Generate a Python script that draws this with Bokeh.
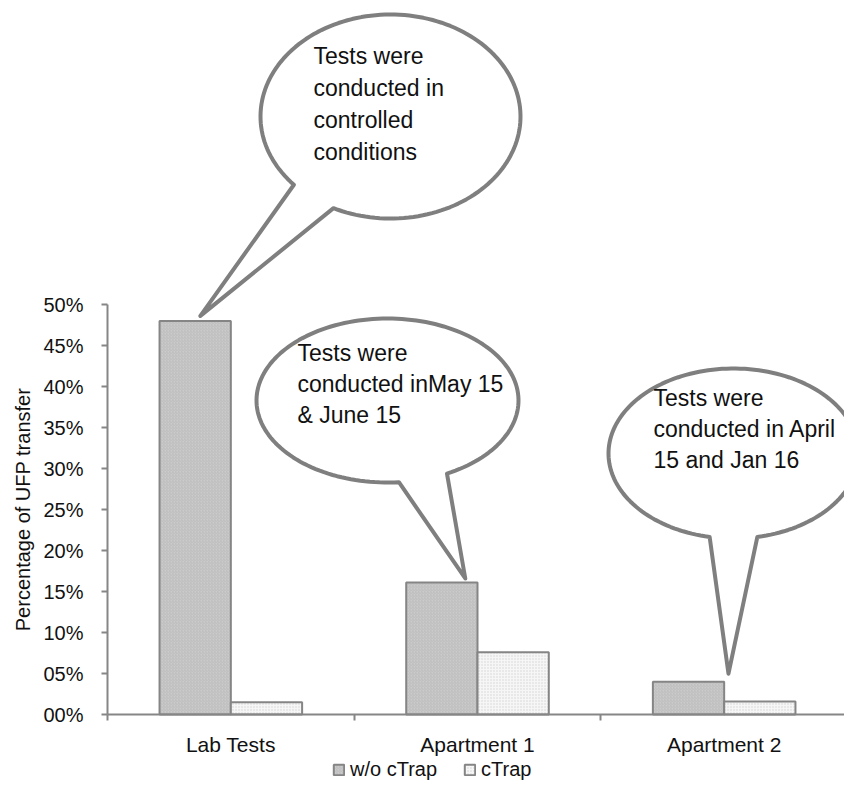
import numpy as np
from bokeh.plotting import figure
from bokeh.models import Range1d, FixedTicker, Legend, LegendItem, ColumnDataSource
from bokeh.core.properties import value
from bokeh.embed import file_html
from bokeh.resources import INLINE

# ---------------- data ----------------
categories = ["Lab Tests", "Apartment 1", "Apartment 2"]
wo_ctrap = [0.480, 0.161, 0.040]
ctrap = [0.015, 0.076, 0.016]
series_names = ["w/o cTrap", "cTrap"]
y_ticks = [0.00, 0.05, 0.10, 0.15, 0.20, 0.25, 0.30, 0.35, 0.40, 0.45, 0.50]
y_tick_labels = ["00%", "05%", "10%", "15%", "20%", "25%", "30%", "35%", "40%", "45%", "50%"]
y_title = "Percentage of UFP transfer"
callout_texts = [
    "Tests were\nconducted in\ncontrolled\nconditions",
    "Tests were\nconducted inMay 15\n& June 15",
    "Tests were\nconducted in  April\n15 and Jan 16",
]

# ---------------- layout (whole canvas is the frame) ----------------
FONT = "Liberation Sans"
W, H = 844, 781
AXIS_X_PX, AXIS_Y_PX = 107, 714        # where the axes cross (px from top-left)
n = len(categories)
px_per_cat = 740.0 / n                  # category width in px
px_per_unit = 820.0                     # pixels for 100 %
bar_w = 0.289

x_range = Range1d(-AXIS_X_PX / px_per_cat, (W - AXIS_X_PX) / px_per_cat)
y_range = Range1d(-(H - AXIS_Y_PX) / px_per_unit, AXIS_Y_PX / px_per_unit)

p = figure(width=W, height=H, output_backend="svg", toolbar_location=None,
           x_range=x_range, y_range=y_range, min_border=0,
           outline_line_color=None, background_fill_color="white",
           border_fill_color="white")
p.xgrid.visible = False
p.ygrid.visible = False


def to_dx(X):
    return (X - AXIS_X_PX) / px_per_cat


def to_dy(Y):
    return (AXIS_Y_PX - Y) / px_per_unit


idx = np.arange(n) + 0.5
src = ColumnDataSource(dict(x_wo=idx - bar_w / 2, x_c=idx + bar_w / 2,
                            wo=wo_ctrap, c=ctrap, cat=categories))

r1 = p.vbar(x="x_wo", top="wo", width=bar_w, source=src,
            fill_color="#cbcbcb", line_color="#858585", line_width=2,
            hatch_pattern="right_diagonal_line", hatch_color="#b4b4b4",
            hatch_scale=3, hatch_weight=0.6)
r2 = p.vbar(x="x_c", top="c", width=bar_w, source=src,
            fill_color="#f6f6f6", line_color="#858585", line_width=2,
            hatch_pattern="dot", hatch_color="#d2d2d2",
            hatch_scale=3, hatch_weight=0.6)

# ---------------- axes (fixed inside the frame) ----------------
AX = "#868686"
ya = p.yaxis[0]
ya.fixed_location = 0
ya.ticker = FixedTicker(ticks=y_ticks, minor_ticks=[])
ya.major_label_overrides = {t: l for t, l in zip(y_ticks, y_tick_labels)}
ya.bounds = (0, 0.5)
ya.axis_line_color = AX
ya.axis_line_width = 2
ya.major_tick_line_color = AX
ya.major_tick_line_width = 2
ya.major_tick_out = 6
ya.major_tick_in = 0
ya.minor_tick_line_color = None
ya.major_label_standoff = 18
ya.major_label_text_font = FONT
ya.major_label_text_font_size = "20px"
ya.major_label_text_color = "#111111"

xa = p.xaxis[0]
xa.fixed_location = 0
xa.ticker = FixedTicker(ticks=list(idx), minor_ticks=list(range(n + 1)))
xa.major_label_overrides = {float(t): c for t, c in zip(idx, categories)}
xa.bounds = (0, n)
xa.axis_line_color = AX
xa.axis_line_width = 2
xa.major_tick_line_color = None
xa.major_tick_out = 0
xa.major_tick_in = 0
xa.minor_tick_line_color = AX
xa.minor_tick_line_width = 2
xa.minor_tick_out = 6
xa.minor_tick_in = 0
xa.major_label_standoff = 12
xa.major_label_text_font = FONT
xa.major_label_text_font_size = "21px"
xa.major_label_text_color = "#111111"

# y title centred on the 0-50 % span of the axis
p.text(x=[to_dx(22)], y=[0.25], text=[y_title], angle=np.pi / 2,
       text_font=value(FONT), text_font_size="20px", text_color="#111111",
       text_align="center", text_baseline="middle")

# ---------------- callouts ----------------
# ellipse centre / radii (px), tail gap angles (deg), tip offset from bar top
callouts = [
    dict(cx=390, cy=116, rx=130, ry=102, lo=116, hi=138, cat=0, tdx=0.021, tdy=5,
         tx=313, ty=55, step=32),
    dict(cx=387, cy=400, rx=131, ry=82, lo=63, hi=85, cat=1, tdx=0.095, tdy=4,
         tx=297, ty=352, step=31),
    dict(cx=733, cy=453, rx=125, ry=85, lo=79, hi=101, cat=2, tdx=0.162, tdy=8,
         tx=653, ty=397, step=31),
]

for c, txt in zip(callouts, callout_texts):
    t = np.radians(np.linspace(c["hi"], c["lo"] + 360, 160))
    X = c["cx"] + c["rx"] * np.cos(t)
    Y = c["cy"] + c["ry"] * np.sin(t)
    xs = list(to_dx(X))
    ys = list(to_dy(Y))
    k = c["cat"]
    xs.append(idx[k] - bar_w / 2 + c["tdx"])
    ys.append(wo_ctrap[k] + c["tdy"] / px_per_unit)
    p.patch(xs, ys, fill_color="white", line_color="#7f7f7f", line_width=4,
            line_join="round")
    lines = txt.split("\n")
    p.text(x=[to_dx(c["tx"])] * len(lines),
           y=[to_dy(c["ty"] + i * c["step"]) for i in range(len(lines))],
           text=lines, text_font=value(FONT), text_font_size="23px",
           text_color="#111111", text_align="left", text_baseline="middle")

# ---------------- legend ----------------
legend = Legend(items=[LegendItem(label=series_names[0], renderers=[r1]),
                       LegendItem(label=series_names[1], renderers=[r2])],
                orientation="horizontal", location=(332, 0),
                label_text_font=FONT, label_text_font_size="20px",
                label_text_color="#111111", glyph_width=13, glyph_height=13,
                label_standoff=5, spacing=26, padding=0, margin=0,
                border_line_color=None, background_fill_alpha=0)
p.add_layout(legend, "center")

open("out.html", "w").write(file_html(p, INLINE))
